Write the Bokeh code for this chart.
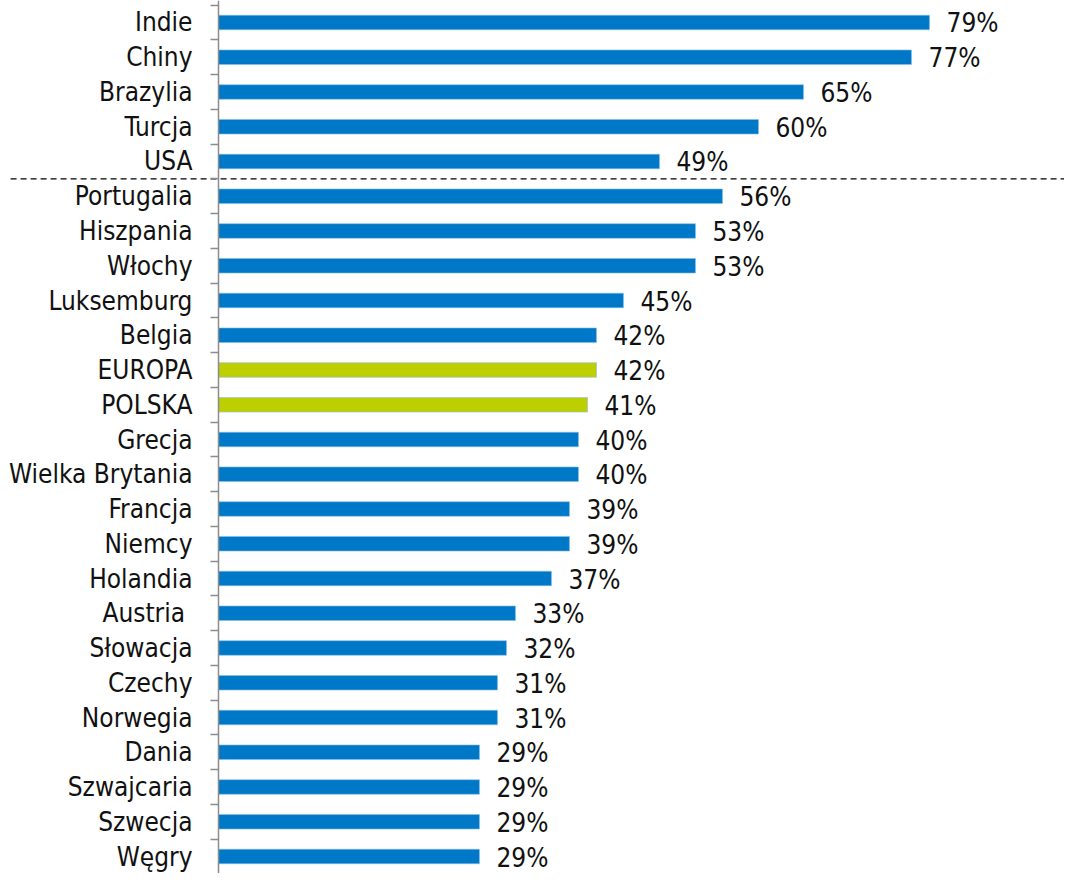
from bokeh.plotting import figure
from bokeh.models import ColumnDataSource, Range1d, FixedTicker
from bokeh.core.properties import value
from bokeh.embed import file_html
from bokeh.resources import INLINE

categories = ["Indie", "Chiny", "Brazylia", "Turcja", "USA", "Portugalia", "Hiszpania",
              "Włochy", "Luksemburg", "Belgia", "EUROPA", "POLSKA", "Grecja",
              "Wielka Brytania", "Francja", "Niemcy", "Holandia", "Austria ", "Słowacja",
              "Czechy", "Norwegia", "Dania", "Szwajcaria", "Szwecja", "Węgry"]
values = [79, 77, 65, 60, 49, 56, 53, 53, 45, 42, 42, 41, 40, 40, 39, 39, 37, 33, 32,
          31, 31, 29, 29, 29, 29]
highlight = ["EUROPA", "POLSKA"]
separator_after = 4  # index of last category above the dashed line

BLUE = "#0078C8"
GREEN = "#BDCF00"
FONT = "'DejaVu Sans Condensed', 'DejaVu Sans'"

pos = list(range(len(categories)))
src = ColumnDataSource(dict(
    y=pos,
    v=values,
    color=[GREEN if c in highlight else BLUE for c in categories],
    label=[f"{v}%" for v in values],
))

p = figure(width=1064, height=873, output_backend="svg", toolbar_location=None,
           x_range=Range1d(-24.22, 94.0), y_range=Range1d(24.489, -0.633),
           min_border_left=0, min_border_right=0, min_border_top=0, min_border_bottom=0)

# dashed separator between non-European countries and Europe
sep = separator_after + 0.5
p.segment(x0=[-23.1], y0=[sep], x1=[100], y1=[sep], line_dash="6 4",
          line_color="black", line_width=1.2)

p.hbar(y="y", right="v", left=0, height=0.42, color="color", line_color="#8CC0E6",
       line_width=0.6, source=src)
p.text(x="v", y="y", text="label", x_offset=17, y_offset=1, text_baseline="middle",
       text_align="left", text_font=value(FONT), text_font_size="26px",
       text_color="#111111", source=src)

p.xaxis.visible = False
p.xgrid.visible = False
p.ygrid.visible = False
p.outline_line_color = None

yax = p.yaxis[0]
yax.fixed_location = 0
yax.ticker = FixedTicker(ticks=pos, minor_ticks=[i - 0.5 for i in range(len(categories) + 1)])
yax.major_label_overrides = {i: c for i, c in enumerate(categories)}
yax.major_tick_out = 0
yax.major_tick_in = 0
yax.minor_tick_out = 8
yax.minor_tick_in = 0
yax.minor_tick_line_color = "#8c8c8c"
yax.minor_tick_line_width = 1.5
yax.axis_line_color = "#8c8c8c"
yax.axis_line_width = 1.5
yax.major_label_standoff = 18
yax.major_label_text_font = FONT
yax.major_label_text_font_size = "26px"
yax.major_label_text_color = "#111111"

open("out.html", "w").write(file_html(p, INLINE))
